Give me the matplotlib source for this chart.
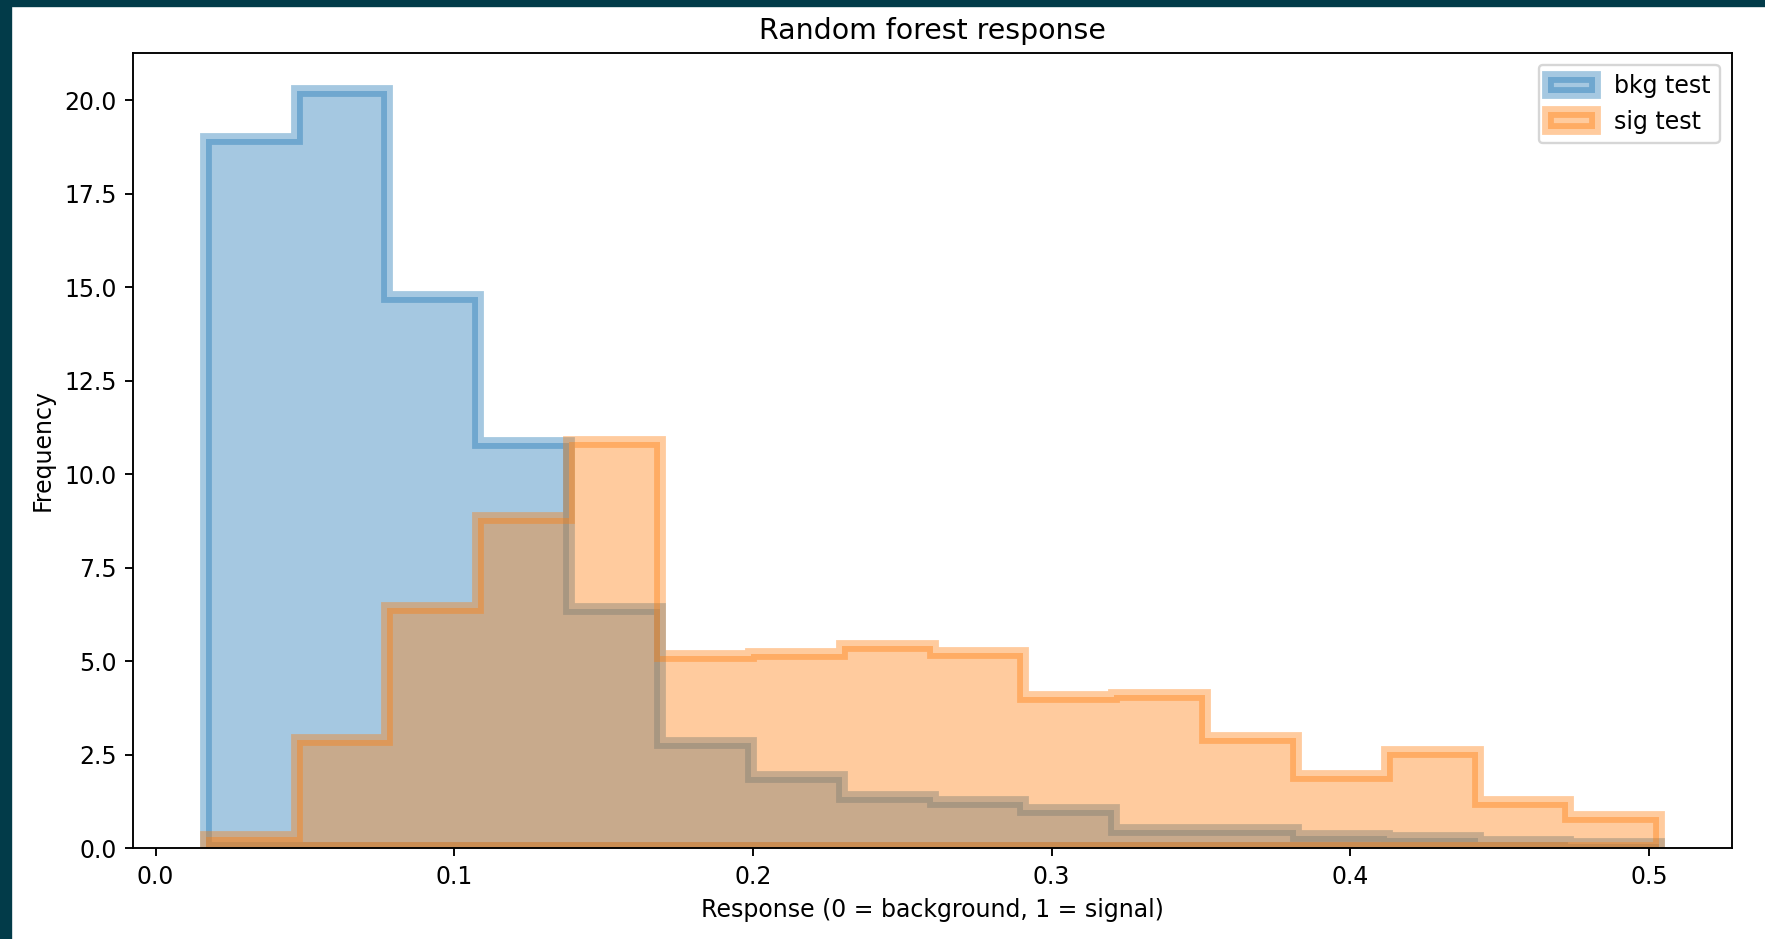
import numpy as np
import matplotlib
matplotlib.use("Agg")
import matplotlib.pyplot as plt
from matplotlib.patches import Rectangle

# bin range (16 equal bins)
x_lo, x_hi, n_bins = 0.0168, 0.5035, 16

# heights per bin
bkg_test = [18.95, 20.25, 14.73, 10.82, 6.38, 2.80, 1.89, 1.37,
            1.23, 1.01, 0.49, 0.47, 0.33, 0.26, 0.16, 0.10]
sig_test = [0.29, 2.89, 6.42, 8.83, 10.86, 5.14, 5.18, 5.39,
            5.21, 4.05, 4.09, 2.93, 1.93, 2.56, 1.23, 0.83]
labels = ["bkg test", "sig test"]

edges = np.linspace(x_lo, x_hi, n_bins + 1)
centers = 0.5 * (edges[:-1] + edges[1:])

dpi = 170
fig = plt.figure(figsize=(1765 / dpi, 939 / dpi), dpi=dpi)
ax = fig.add_axes([0.0754, 0.0969, 0.9813 - 0.0754, 0.9436 - 0.0969])

ax.hist(centers, bins=edges, weights=bkg_test, histtype="stepfilled",
        color="tab:blue", ec="tab:blue", alpha=0.4, lw=5, label=labels[0])
ax.hist(centers, bins=edges, weights=sig_test, histtype="stepfilled",
        color="tab:orange", ec="tab:orange", alpha=0.4, lw=5, label=labels[1])

ax.set_title("Random forest response")
ax.set_xlabel("Response (0 = background, 1 = signal)")
ax.set_ylabel("Frequency")
ax.legend(loc="upper right")

# dark frame of the screenshot (left and top)
frame = "#023b49"
fig.add_artist(Rectangle((0, 0), 11 / 1765, 1, transform=fig.transFigure,
                         color=frame, zorder=10))
fig.add_artist(Rectangle((0, 1 - 6 / 939), 1, 6 / 939, transform=fig.transFigure,
                         color=frame, zorder=10))

fig.savefig("out.png", dpi=dpi)
